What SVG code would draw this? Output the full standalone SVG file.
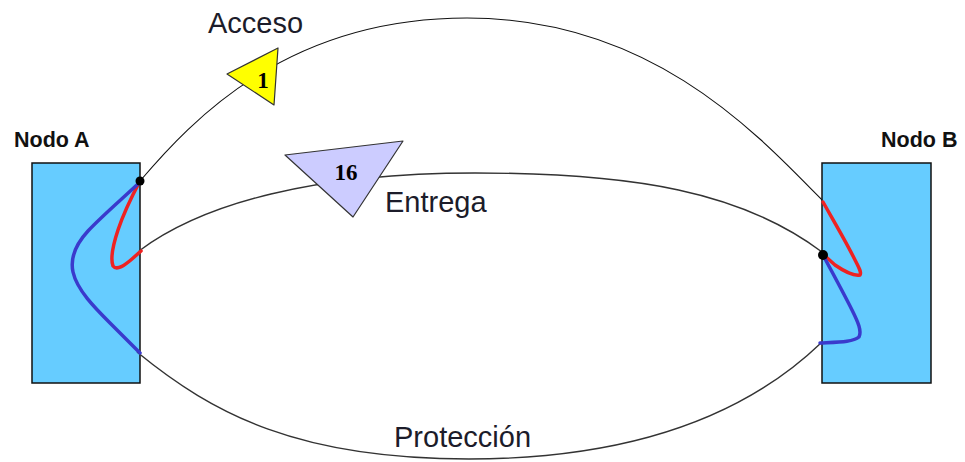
<svg xmlns="http://www.w3.org/2000/svg" width="965" height="462" viewBox="0 0 965 462">
<style>
.node{fill:#66ccff;stroke:#111;stroke-width:1.5}
.title{font-family:"Liberation Sans",Arial,sans-serif;font-weight:bold;font-size:21.5px;fill:#111}
.lbl{font-family:"Liberation Sans",Arial,sans-serif;font-size:29px;fill:#1c1c2a}
.num{font-family:"Liberation Serif","Times New Roman",serif;font-weight:bold;font-size:23px;fill:#000;text-anchor:middle}
.link{fill:none;stroke:#333;stroke-width:1.4}
.acc{fill:none;stroke:#111;stroke-width:1.1}
.red{fill:none;stroke:#ee2222;stroke-width:3.5;stroke-linecap:round;stroke-linejoin:round}
.blue{fill:none;stroke:#3a3acc;stroke-width:3.5;stroke-linecap:round;stroke-linejoin:round}
.tri{stroke:#333;stroke-width:1.2;stroke-linejoin:round}
</style>
<rect width="965" height="462" fill="#fff"/>
<g id="nodoA">
<rect class="node" x="32" y="163" width="108" height="220"/>
<text class="title" x="14" y="147">Nodo A</text>
</g>
<g id="nodoB">
<rect class="node" x="822" y="163" width="109" height="220"/>
<text class="title" x="881" y="147">Nodo B</text>
</g>
<g id="connectors">
<path id="acceso" class="acc" d="M140,181 C192,120 287,18 467,18 C647,18 752,128 822,200"/>
<path id="entrega" class="link" d="M139,251 C203,203 315,173 475,173 C635,173 742,192 822,252"/>
<path id="proteccion" class="link" d="M137,352 C214,415 299,459 469,459 C639,459 749,412 821,343"/>
</g>
<g id="pathsA">
<path class="red" d="M140,181 C132,196 124,212 118,230 C113,245 110,258 113,266 C117,271 125,265 132,259 L141,251"/>
<path class="blue" d="M139,183 C122,199 102,216 88,231 C76,244 70,258 73,272 C77,290 95,308 110,323 L140,353"/>
<circle cx="140" cy="181" r="4.5" fill="#000"/>
</g>
<g id="pathsB">
<path class="red" d="M823,202 C832,218 845,240 853,256 C858,266 862,272 860,275 C855,276 845,272 835,265 L825,256"/>
<path class="blue" d="M823,255 C832,272 843,292 852,310 C858,322 862,331 859,337 C853,342 840,342 820,343"/>
<circle cx="823" cy="255" r="5" fill="#000"/>
</g>
<g id="marker1">
<polygon class="tri" fill="#ffff00" points="227,74 278,48 274,105"/>
<text class="num" x="263" y="88">1</text>
</g>
<g id="marker16">
<polygon class="tri" fill="#ccccff" points="285,155 403,141 353,217"/>
<text class="num" x="346" y="180">16</text>
</g>
<g id="labels">
<text class="lbl" x="208" y="33">Acceso</text>
<text class="lbl" x="385" y="212">Entrega</text>
<text class="lbl" x="394" y="447">Protección</text>
</g>
</svg>
